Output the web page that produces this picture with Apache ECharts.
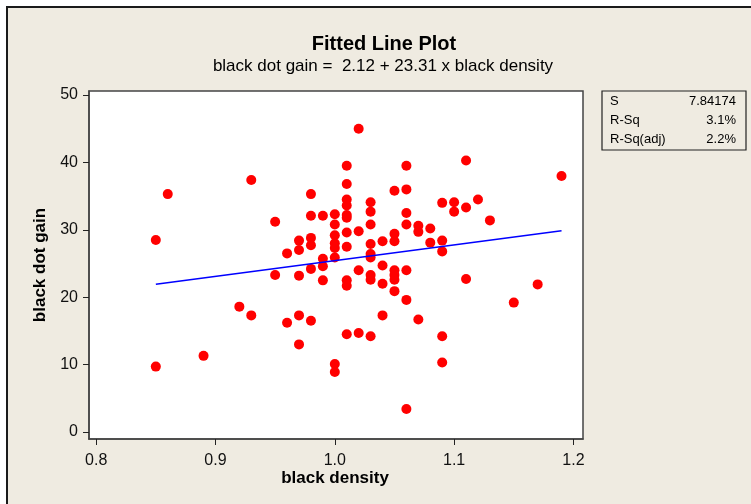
<!DOCTYPE html>
<html>
<head>
<meta charset="utf-8">
<script src="https://cdn.jsdelivr.net/npm/echarts@6/dist/echarts.min.js"></script>
<style>
html,body{margin:0;padding:0;background:#fff;}
#c{width:751px;height:504px;}
</style>
</head>
<body>
<div id="c"></div>
<script>
// ---- data ----
const densityValues = [
  0.85,0.85,
  0.86,
  0.89,
  0.92,
  0.93,0.93,
  0.95,0.95,
  0.96,0.96,
  0.97,0.97,0.97,0.97,0.97,
  0.98,0.98,0.98,0.98,0.98,0.98,
  0.99,0.99,0.99,0.99,
  1.00,1.00,1.00,1.00,1.00,1.00,1.00,1.00,
  1.01,1.01,1.01,1.01,1.01,1.01,1.01,1.01,1.01,1.01,1.01,
  1.02,1.02,1.02,1.02,
  1.03,1.03,1.03,1.03,1.03,1.03,1.03,1.03,1.03,
  1.04,1.04,1.04,1.04,
  1.05,1.05,1.05,1.05,1.05,1.05,1.05,
  1.06,1.06,1.06,1.06,1.06,1.06,1.06,
  1.07,1.07,1.07,
  1.08,1.08,
  1.09,1.09,1.09,1.09,1.09,
  1.10,1.10,
  1.11,1.11,1.11,
  1.12,
  1.13,
  1.15,
  1.17,
  1.19
];
const dotGainValues = [
  28.5,9.7,
  35.3,
  11.3,
  18.6,
  37.4,17.3,
  31.2,23.3,
  26.5,16.2,
  28.4,27.0,23.2,17.3,13.0,
  35.3,32.1,28.8,27.7,24.2,16.5,
  32.1,25.7,24.6,22.5,
  32.3,30.8,29.2,28.0,27.3,25.9,10.1,8.9,
  39.5,36.8,34.5,33.6,32.2,31.8,29.6,27.5,22.5,21.7,14.5,
  45.0,29.8,24.0,14.7,
  34.1,32.7,30.8,27.9,26.4,25.9,23.3,22.6,14.2,
  28.3,24.7,22.0,17.3,
  35.8,29.4,28.3,24.0,23.3,22.6,20.9,
  39.5,36.0,32.5,30.8,24.0,19.6,3.4,
  30.6,29.7,16.7,
  30.2,28.1,
  34.0,28.4,26.8,14.2,10.3,
  34.1,32.7,
  40.3,33.3,22.7,
  34.5,
  31.4,
  19.2,
  21.9,
  38.0
];
const fitX = [0.85, 1.19];
const fitY = [21.93, 29.86];
const xTicks = [0.8, 0.9, 1.0, 1.1, 1.2];
const yTicks = [0, 10, 20, 30, 40, 50];
const statNames = ['S', 'R-Sq', 'R-Sq(adj)'];
const statValues = ['7.84174', '3.1%', '2.2%'];
const titleText = 'Fitted Line Plot';
const subtitleText = 'black dot gain =  2.12 + 23.31 x black density';
const xName = 'black density';
const yName = 'black dot gain';

// ---- chart ----
const FONT = '"Liberation Sans", Arial, sans-serif';
const scatterData = densityValues.map((x, i) => [x, dotGainValues[i]]);
const lineData = fitX.map((x, i) => [x, fitY[i]]);

function label(text, x, y, font, align, rotation) {
  return {type:'text', x:x, y:y, z:10, rotation:rotation || 0,
    style:{text:text, font:font, fill:'#000', align:align || 'center', verticalAlign:'middle'}};
}

const statGraphics = [];
statNames.forEach((n, i) => {
  statGraphics.push(label(n, 610, 101 + i*19, '13px ' + FONT, 'left'));
  statGraphics.push(label(statValues[i], 736, 101 + i*19, '13px ' + FONT, 'right'));
});

const chart = echarts.init(document.getElementById('c'), null, {renderer:'canvas'});
chart.setOption({
  animation:false,
  backgroundColor:'#fff',
  graphic:[
    {type:'rect', z:-10, shape:{x:7, y:7, width:800, height:560},
      style:{fill:'#EFEBE1', stroke:'#1a1a1a', lineWidth:2}},
    {type:'rect', z:5, shape:{x:602, y:91, width:144, height:59},
      style:{fill:'rgba(0,0,0,0)', stroke:'#222', lineWidth:1.2}},
    label(titleText, 384, 44, 'bold 20px ' + FONT, 'center'),
    label(subtitleText, 383, 66, '17px ' + FONT, 'center'),
    label(xName, 335, 478, 'bold 17px ' + FONT, 'center'),
    label(yName, 40, 265, 'bold 17px ' + FONT, 'center', Math.PI/2)
  ].concat(statGraphics),
  grid:{left:89, right:168, top:91, bottom:65, show:true, backgroundColor:'#fff',
    borderColor:'#444', borderWidth:1.5},
  xAxis:{type:'value', min:0.794, max:1.208,
    axisLine:{show:true, onZero:false, lineStyle:{color:'#444', width:1.5}},
    axisTick:{show:true, inside:false, length:6, customValues:xTicks, lineStyle:{color:'#222'}},
    axisLabel:{customValues:xTicks, margin:14, color:'#111', fontSize:16, fontFamily:FONT,
      formatter:v => v.toFixed(1)},
    splitLine:{show:false}},
  yAxis:{type:'value', min:-1.04, max:50.6,
    axisLine:{show:true, onZero:false, lineStyle:{color:'#444', width:1.5}},
    axisTick:{show:true, inside:false, length:6, customValues:yTicks, lineStyle:{color:'#222'}},
    axisLabel:{customValues:yTicks, margin:11, color:'#111', fontSize:16, fontFamily:FONT,
      formatter:v => String(Math.round(v))},
    splitLine:{show:false}},
  series:[
    {type:'scatter', data:scatterData, symbol:'circle', symbolSize:10,
      itemStyle:{color:'#FF0000', opacity:1}, z:3},
    {type:'line', data:lineData, showSymbol:false, symbol:'none',
      lineStyle:{color:'#0000FF', width:1.5}, z:4}
  ]
});
</script>
</body>
</html>
